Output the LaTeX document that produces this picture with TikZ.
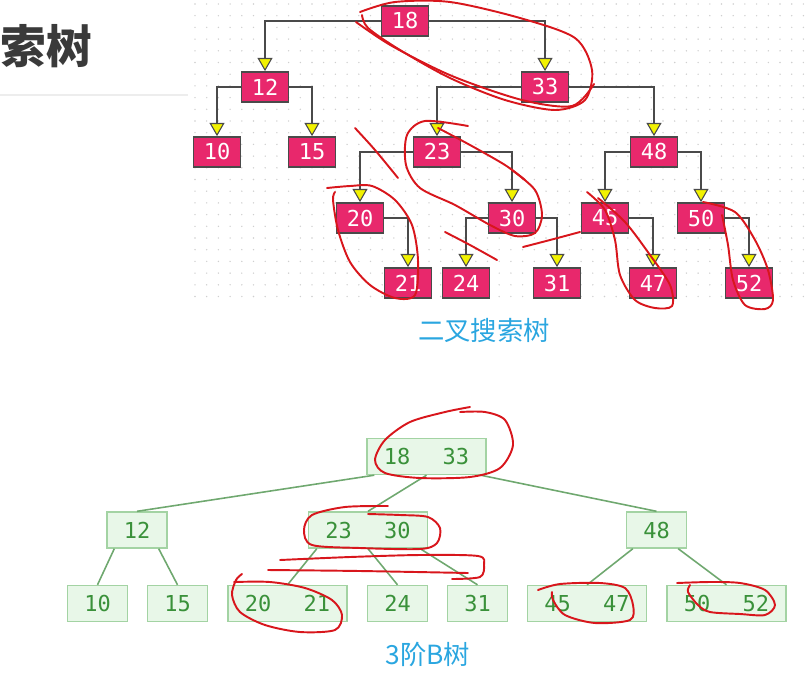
\documentclass[tikz,border=0pt]{standalone}
\usepackage{fontspec}
\setmonofont{DejaVu Sans Mono}
\newfontfamily\cjk{Noto Sans CJK SC}
\usepackage{xcolor}
\usepackage{tikz}
\usetikzlibrary{arrows.meta,calc}

\definecolor{bstpink}{HTML}{E8286C}
\definecolor{bstline}{HTML}{4A4A4A}
\definecolor{bstyellow}{HTML}{F2F200}
\definecolor{gridgray}{HTML}{CFCFCF}
\definecolor{capblue}{HTML}{2AA6E0}
\definecolor{btfill}{HTML}{E8F7E8}
\definecolor{btborder}{HTML}{A3D3A3}
\definecolor{btgreen}{HTML}{3A913A}
\definecolor{btline}{HTML}{6FA86F}
\definecolor{penred}{HTML}{D8161C}
\definecolor{titlegray}{HTML}{3A3A3A}

\tikzset{
    bstnode/.style={draw=bstline, line width=1pt, fill=bstpink, text=white,
        font=\ttfamily\fontsize{12.5}{12.5}\selectfont,
        minimum width=0.94cm, minimum height=0.6cm, inner sep=0pt},
    bstedge/.style={draw=bstline, line width=1.1pt,
        -{Triangle[width=8.5pt, length=7.5pt, fill=bstyellow, line width=0.6pt]}},
    btnode/.style={draw=btborder, line width=0.8pt, fill=btfill, text=btgreen,
        font=\ttfamily\fontsize{12.5}{12.5}\selectfont,
        minimum width=1.2cm, minimum height=0.72cm, inner sep=0pt},
    bttwo/.style={btnode, minimum width=2.38cm},
    btedge/.style={draw=btline, line width=0.9pt},
    caption/.style={text=capblue, font=\cjk\fontsize{15}{15}\selectfont},
    redpen/.style={draw=penred, line width=1.1pt, line cap=round, line join=round}
}

\begin{document}
\begin{tikzpicture}[x=0.02cm, y=-0.02cm]
        \useasboundingbox (0, 0) rectangle (807, 683);

        % title and rule
        \node [anchor=west, inner sep=0pt, text=titlegray, font=\cjk\bfseries\fontsize{26}{26}\selectfont] (title) at (0, 46) {索树};
        \draw [draw=black!7, line width=0.8pt] (0, 95) -- (188, 95);

        % dotted grid
        \foreach \i in {0,...,52} {
            \foreach \j in {0,...,25} {
                \fill [gridgray] (195 + 11.7*\i, 4 + 11.7*\j) circle [radius=0.45pt];
            }
        }

        % binary search tree
        \node [bstnode] (n18) at (405, 21) {18};
        \node [bstnode] (n12) at (265, 87) {12};
        \node [bstnode] (n33) at (545, 87) {33};
        \node [bstnode] (n10) at (217, 152) {10};
        \node [bstnode] (n15) at (312, 152) {15};
        \node [bstnode] (n23) at (437, 152) {23};
        \node [bstnode] (n48) at (654, 152) {48};
        \node [bstnode] (n20) at (360, 218) {20};
        \node [bstnode] (n30) at (512, 218) {30};
        \node [bstnode] (n45) at (605, 218) {45};
        \node [bstnode] (n50) at (701, 218) {50};
        \node [bstnode] (n21) at (408, 283) {21};
        \node [bstnode] (n24) at (466, 283) {24};
        \node [bstnode] (n31) at (557, 283) {31};
        \node [bstnode] (n47) at (653, 283) {47};
        \node [bstnode] (n52) at (749, 283) {52};

        \draw [bstedge] (n18.west) -| (n12.north);
        \draw [bstedge] (n18.east) -| (n33.north);
        \draw [bstedge] (n12.west) -| (n10.north);
        \draw [bstedge] (n12.east) -| (n15.north);
        \draw [bstedge] (n33.west) -| (n23.north);
        \draw [bstedge] (n33.east) -| (n48.north);
        \draw [bstedge] (n23.west) -| (n20.north);
        \draw [bstedge] (n23.east) -| (n30.north);
        \draw [bstedge] (n48.west) -| (n45.north);
        \draw [bstedge] (n48.east) -| (n50.north);
        \draw [bstedge] (n20.east) -| (n21.north);
        \draw [bstedge] (n30.west) -| (n24.north);
        \draw [bstedge] (n30.east) -| (n31.north);
        \draw [bstedge] (n45.east) -| (n47.north);
        \draw [bstedge] (n50.east) -| (n52.north);

        \node [caption] (bstcap) at (484, 330) {二叉搜索树};

        % 3-order B-tree
        \node [bttwo] (b1833) at (426.5, 456.5) {18\hspace{0.65cm}33};
        \node [btnode] (b12) at (137, 530) {12};
        \node [bttwo] (b2330) at (368, 530) {23\hspace{0.65cm}30};
        \node [btnode] (b48) at (656.5, 530) {48};
        \node [btnode] (b10) at (97.5, 603.5) {10};
        \node [btnode] (b15) at (177.5, 603.5) {15};
        \node [bttwo] (b2021) at (287.5, 603.5) {20\hspace{0.65cm}21};
        \node [btnode] (b24) at (397.5, 603.5) {24};
        \node [btnode] (b31) at (477.5, 603.5) {31};
        \node [bttwo] (b4547) at (587, 603.5) {45\hspace{0.65cm}47};
        \node [bttwo] (b5052) at (726.5, 603.5) {50\hspace{0.65cm}52};

        \draw [btedge] ($(b1833.south west)+(8, 0)$) -- (b12.north);
        \draw [btedge] (b1833.south) -- (b2330.north);
        \draw [btedge] ($(b1833.south east)+(-6, 0)$) -- (b48.north);
        \draw [btedge] ($(b12.south west)+(8, 0)$) -- (b10.north);
        \draw [btedge] ($(b12.south east)+(-9, 0)$) -- (b15.north);
        \draw [btedge] ($(b2330.south west)+(9, 0)$) -- (b2021.north);
        \draw [btedge] (b2330.south) -- (b24.north);
        \draw [btedge] ($(b2330.south east)+(-8, 0)$) -- (b31.north);
        \draw [btedge] ($(b48.south west)+(7, 0)$) -- (b4547.north);
        \draw [btedge] ($(b48.south east)+(-9, 0)$) -- (b5052.north);

        \node [caption] (btcap) at (428, 654) {3阶B树};

        % red pen marks
        \draw [redpen] plot [smooth] coordinates {(360, 12) (395, 2) (450, 2) (520, 18) (575, 38) (592, 70) (585, 100) (555, 110) (505, 100) (450, 78) (400, 50) (368, 28) (362, 15)};
        \draw [redpen] plot [smooth] coordinates {(356, 22) (392, 46) (452, 76) (522, 100) (572, 106) (594, 84)};
        \draw [redpen] plot [smooth] coordinates {(468, 126) (425, 121) (407, 135) (406, 165) (420, 188) (455, 205) (490, 225) (515, 236) (535, 233) (542, 215) (535, 190) (512, 170)};
        \draw [redpen] plot [smooth] coordinates {(438, 128) (470, 145) (505, 165) (525, 180)};
        \draw [redpen] plot [smooth] coordinates {(355, 128) (375, 150) (398, 178)};
        \draw [redpen] plot [smooth] coordinates {(327, 188) (350, 186) (372, 186) (395, 200) (412, 225) (418, 260) (415, 295) (395, 298) (370, 285) (350, 262) (338, 230) (333, 200) (335, 192)};
        \draw [redpen] plot [smooth] coordinates {(445, 232) (470, 245) (497, 260)};
        \draw [redpen] plot [smooth] coordinates {(523, 247) (550, 240) (580, 232)};
        \draw [redpen] plot [smooth] coordinates {(587, 192) (605, 210) (615, 240) (620, 275) (635, 300) (655, 308) (672, 306) (670, 285) (650, 255) (625, 222) (598, 198)};
        \draw [redpen] plot [smooth] coordinates {(703, 202) (735, 212) (755, 240) (768, 270) (773, 300) (765, 309) (745, 305) (733, 280) (728, 245) (722, 215)};
        \draw [redpen] plot [smooth] coordinates {(470, 407) (445, 412) (410, 422) (385, 440) (375, 460) (385, 473) (420, 478) (470, 477) (500, 468) (513, 445) (505, 420) (485, 412) (460, 412)};
        \draw [redpen] plot [smooth] coordinates {(388, 506) (345, 507) (312, 515) (304, 530) (312, 545) (360, 548) (420, 549) (437, 543) (440, 528) (428, 517) (400, 515) (368, 514)};
        \draw [redpen] plot [smooth] coordinates {(280, 560) (350, 557) (420, 555) (478, 556) (484, 565) (480, 577) (452, 579)};
        \draw [redpen] plot [smooth] coordinates {(268, 570) (360, 571) (468, 573)};
        \draw [redpen] plot [smooth] coordinates {(242, 574) (236, 580) (232, 595) (240, 612) (265, 625) (300, 632) (335, 630) (342, 615) (332, 600) (305, 588) (270, 582) (234, 582)};
        \draw [redpen] plot [smooth] coordinates {(538, 590) (560, 584) (600, 583) (625, 588) (633, 605) (630, 620) (595, 623) (565, 615) (553, 600) (552, 592)};
        \draw [redpen] plot [smooth] coordinates {(677, 583) (710, 582) (740, 583) (765, 590) (775, 605) (765, 615) (740, 614) (710, 612) (698, 605) (688, 592) (690, 585)};
    \end{tikzpicture}
\end{document}
